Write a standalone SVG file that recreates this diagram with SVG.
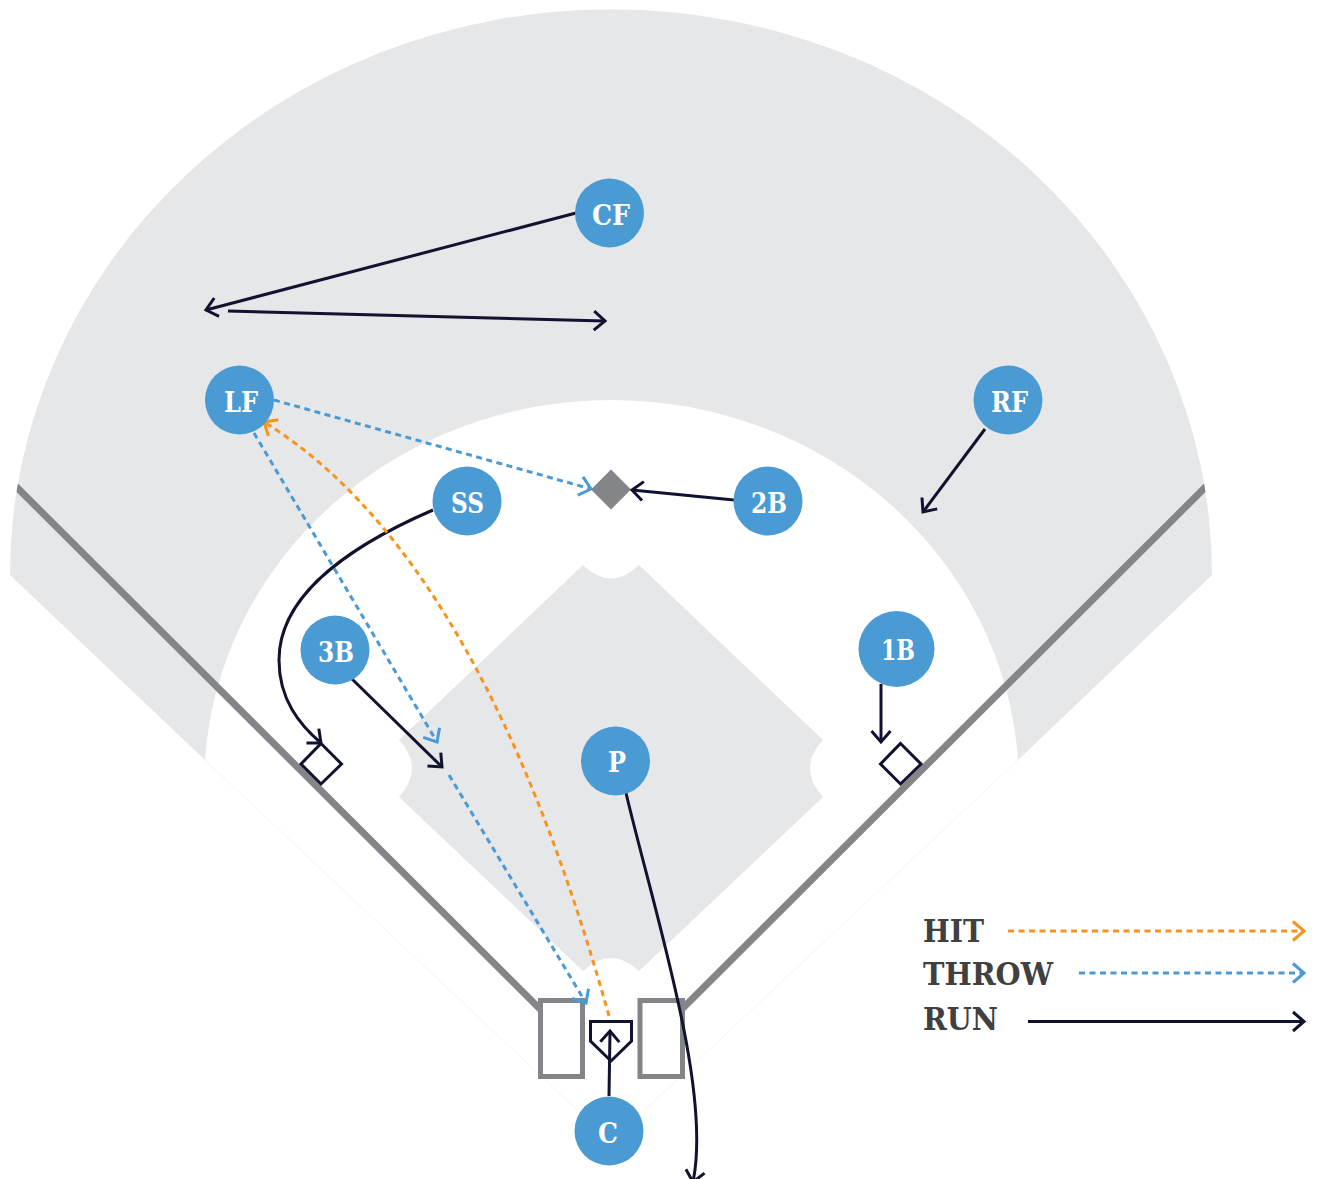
<svg xmlns="http://www.w3.org/2000/svg" width="1318" height="1179" viewBox="0 0 1318 1179">
<style>
.field{fill:#e6e7e8}
.faint{fill:none;stroke:#f4f4f4;stroke-width:1}
.foul{fill:none;stroke:#848588;stroke-width:7}
.box{fill:#fff;stroke:#848588;stroke-width:5}
.base{fill:#fff;stroke:#10122f;stroke-width:3}
.run,.hit,.throw{fill:none;stroke-width:3}
.run{stroke:#10122f}
.hit{stroke:#f7941e;stroke-dasharray:6 4.500}
.throw{stroke:#4a9ad4;stroke-dasharray:6 4.500}
.dot{fill:#4a9ad4}
.lbl{font-family:"DejaVu Serif",serif;font-weight:700;fill:#fff;font-size:28px;text-anchor:start}
.leg{font-family:"DejaVu Serif",serif;font-weight:700;fill:#404040;font-size:31px}
</style>
<defs>
<clipPath id="outer"><ellipse cx="611" cy="575" rx="601" ry="566"/></clipPath>
<marker id="aRun" markerUnits="userSpaceOnUse" markerWidth="24" markerHeight="24" refX="14" refY="12" orient="auto" overflow="visible"><path d="M3,2.500L14,12L3,21.500" fill="none" stroke="#10122f" stroke-width="3"/></marker>
<marker id="aHit" markerUnits="userSpaceOnUse" markerWidth="24" markerHeight="24" refX="14" refY="12" orient="auto" overflow="visible"><path d="M3,2.500L14,12L3,21.500" fill="none" stroke="#f7941e" stroke-width="3"/></marker>
<marker id="aThrow" markerUnits="userSpaceOnUse" markerWidth="24" markerHeight="24" refX="14" refY="12" orient="auto" overflow="visible"><path d="M3,2.500L14,12L3,21.500" fill="none" stroke="#4a9ad4" stroke-width="3"/></marker>
</defs>
<g id="field">
<path class="field" d="M10,575A601,566 0 0 1 1212,575L1018,760A407.360,385 0 0 0 205,760Z"/>
<path class="field" d="M583,565Q611,592 639,565L823,740Q797,768 823,797L639,971Q611,945 583,971L399,797Q425,768 399,740Z"/>
<path class="faint" d="M205,760L577,1110M1018,760L645,1110"/>
<path class="foul" clip-path="url(#outer)" d="M12,482.500L541,1010M1210,482.500L681,1010"/>
<rect class="box" x="540.500" y="1000.500" width="42" height="76"/>
<rect class="box" x="640" y="1000.500" width="42.500" height="76"/>
<path id="home" class="base" d="M590.500,1021.500H631.500V1041L611,1061L590.500,1041Z"/>
<path id="base3" class="base" d="M321,743.500L341.500,764L321,784L301,764Z"/>
<path id="base1" class="base" d="M900.500,743.500L921,764L900.500,784L880.500,764Z"/>
<path id="base2" fill="#848588" d="M611,469.500L631,489.500L611,509.500L591,489.500Z"/>
</g>
<g id="connectors">
<path class="run" marker-end="url(#aRun)" d="M576,213L206,310"/>
<path class="run" marker-end="url(#aRun)" d="M228,311L605,321"/>
<path class="run" marker-end="url(#aRun)" d="M734,500L632,490"/>
<path class="run" marker-end="url(#aRun)" d="M985,429L923,512"/>
<path class="run" marker-end="url(#aRun)" d="M881,684V742"/>
<path class="run" marker-end="url(#aRun)" d="M433,510C340,550 279,600 279,660C279,700 300,725 321,743"/>
<path class="run" marker-end="url(#aRun)" d="M352,679L442,767"/>
<path class="run" marker-end="url(#aRun)" d="M626,793C655,915 712,1090 693,1182"/>
<path class="run" marker-end="url(#aRun)" d="M609,1096L610,1031"/>
<path class="throw" marker-end="url(#aThrow)" d="M274,400L591,489"/>
<path class="throw" marker-end="url(#aThrow)" d="M254,433L437,742"/>
<path class="throw" marker-end="url(#aThrow)" d="M449,775L586,1003"/>
<path class="hit" marker-end="url(#aHit)" d="M609,1016C550,805 448,535 264,422"/>
</g>
<g id="legend">
<text class="leg" x="923" y="942" textLength="61" lengthAdjust="spacingAndGlyphs">HIT</text>
<text class="leg" x="923" y="985" textLength="130" lengthAdjust="spacingAndGlyphs">THROW</text>
<text class="leg" x="923" y="1030" textLength="75" lengthAdjust="spacingAndGlyphs">RUN</text>
<path class="hit" marker-end="url(#aHit)" d="M1008,931H1304"/>
<path class="throw" marker-end="url(#aThrow)" d="M1079,973H1304"/>
<path class="run" marker-end="url(#aRun)" d="M1028,1021.500H1304"/>
</g>
<g id="CF"><circle class="dot" cx="609.500" cy="213" r="34.500"/><text class="lbl" x="592" y="225" textLength="38" lengthAdjust="spacingAndGlyphs">CF</text></g>
<g id="LF"><circle class="dot" cx="239.500" cy="400" r="34.500"/><text class="lbl" x="224" y="412" textLength="34" lengthAdjust="spacingAndGlyphs">LF</text></g>
<g id="RF"><circle class="dot" cx="1008" cy="400" r="34.500"/><text class="lbl" x="991" y="412" textLength="37" lengthAdjust="spacingAndGlyphs">RF</text></g>
<g id="SS"><circle class="dot" cx="467" cy="501" r="34.500"/><text class="lbl" x="451" y="513" textLength="33" lengthAdjust="spacingAndGlyphs">SS</text></g>
<g id="2B"><circle class="dot" cx="768" cy="501" r="34.500"/><text class="lbl" x="751" y="513" textLength="36" lengthAdjust="spacingAndGlyphs">2B</text></g>
<g id="3B"><circle class="dot" cx="335" cy="650" r="34.500"/><text class="lbl" x="318" y="662" textLength="36" lengthAdjust="spacingAndGlyphs">3B</text></g>
<g id="1B"><circle class="dot" cx="896.500" cy="649" r="38"/><text class="lbl" x="881" y="660" textLength="34" lengthAdjust="spacingAndGlyphs">1B</text></g>
<g id="P"><circle class="dot" cx="615.500" cy="761" r="34.500"/><text class="lbl" x="608" y="772" textLength="18" lengthAdjust="spacingAndGlyphs">P</text></g>
<g id="C"><circle class="dot" cx="609" cy="1131" r="34.500"/><text class="lbl" x="598" y="1143" textLength="20" lengthAdjust="spacingAndGlyphs">C</text></g>
</svg>
